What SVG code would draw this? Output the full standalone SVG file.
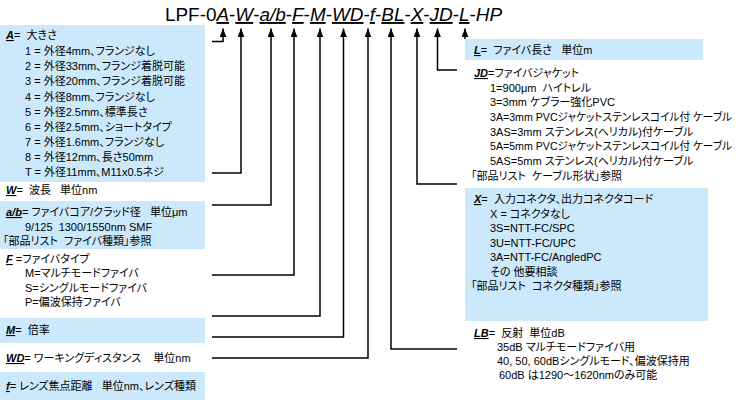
<svg xmlns="http://www.w3.org/2000/svg" width="740" height="400" viewBox="0 0 740 400">
<style>
.t{font-family:"Liberation Sans","Noto Sans CJK JP",sans-serif;font-size:11px;font-feature-settings:"palt";fill:#000;white-space:pre}
.lb{font-weight:bold;font-style:italic;text-decoration:underline}
.ttl{font-family:"Liberation Sans","Noto Sans CJK JP",sans-serif;font-size:18.9px;fill:#000}
.it{font-style:italic}
.u{font-style:italic;text-decoration:underline}
.box{fill:#CCE9FB}
.con{fill:none;stroke:#000;stroke-width:1.5}
</style>
<defs>
<marker id="ah" viewBox="0 0 10 8" refX="10" refY="4" markerWidth="9" markerHeight="7" markerUnits="userSpaceOnUse" orient="auto">
<path d="M0,0 L10,4 L0,8 Z" fill="#000"/>
</marker>
</defs>
<rect width="740" height="400" fill="#fff"/>
<g id="title">
<text class="ttl" x="165" y="21">LPF-0<tspan class="u">A</tspan>-<tspan class="u">W</tspan>-<tspan class="u">a/b</tspan>-<tspan class="u">F</tspan>-<tspan class="u">M</tspan>-<tspan class="u">WD</tspan>-<tspan class="u">f</tspan>-<tspan class="u">BL</tspan>-<tspan class="u">X</tspan>-<tspan class="u">JD</tspan>-<tspan class="u">L</tspan>-<tspan class="it">HP</tspan></text>
</g>
<g id="connectors">
<path class="con" d="M212,41.5 H223 V28.5" marker-end="url(#ah)"/>
<path class="con" d="M212,173 H241 V28.5" marker-end="url(#ah)"/>
<path class="con" d="M212,205 H271 V28.5" marker-end="url(#ah)"/>
<path class="con" d="M212,275 H294 V28.5" marker-end="url(#ah)"/>
<path class="con" d="M212,316 H320 V28.5" marker-end="url(#ah)"/>
<path class="con" d="M212,337 H343.5 V28.5" marker-end="url(#ah)"/>
<path class="con" d="M212,358 H368 V28.5" marker-end="url(#ah)"/>
<path class="con" d="M457,349 H391 V28.5" marker-end="url(#ah)"/>
<path class="con" d="M457,184 H417 V28.5" marker-end="url(#ah)"/>
<path class="con" d="M457,70 H437.5 V28.5" marker-end="url(#ah)"/>
<path class="con" d="M465,39 V28.5" marker-end="url(#ah)"/>
</g>
<g id="node-A">
<rect class="box" x="0" y="25" width="205" height="157"/>
<text class="t" x="6" y="39" xml:space="preserve"><tspan class="lb">A</tspan>=  大きさ</text>
<text class="t" x="25" y="55" xml:space="preserve">1 = 外径4mm、フランジなし</text>
<text class="t" x="25" y="70" xml:space="preserve">2 = 外径33mm、フランジ着脱可能</text>
<text class="t" x="25" y="85" xml:space="preserve">3 = 外径20mm、フランジ着脱可能</text>
<text class="t" x="25" y="100.5" xml:space="preserve">4 = 外径8mm、フランジなし</text>
<text class="t" x="25" y="115.5" xml:space="preserve">5 = 外径2.5mm、標準長さ</text>
<text class="t" x="25" y="130.5" xml:space="preserve">6 = 外径2.5mm、ショートタイプ</text>
<text class="t" x="25" y="145.5" xml:space="preserve">7 = 外径1.6mm、フランジなし</text>
<text class="t" x="25" y="160.5" xml:space="preserve">8 = 外径12mm、長さ50mm</text>
<text class="t" x="25" y="175.5" xml:space="preserve">T = 外径11mm、M11x0.5ネジ</text>
</g>
<g id="node-W">
<text class="t" x="6" y="194" xml:space="preserve"><tspan class="lb">W</tspan>=  波長   単位nm</text>
</g>
<g id="node-ab">
<rect class="box" x="0" y="201" width="205" height="48"/>
<text class="t" x="6" y="216" xml:space="preserve"><tspan class="lb">a/b</tspan>= ファイバコア/クラッド径   単位μm</text>
<text class="t" x="25" y="230.5" xml:space="preserve">9/125  1300/1550nm SMF</text>
<text class="t" x="3" y="244.5" xml:space="preserve">「部品リスト  ファイバ種類」参照</text>
</g>
<g id="node-F">
<text class="t" x="6" y="263" xml:space="preserve"><tspan class="lb">F</tspan> =ファイバタイプ</text>
<text class="t" x="25" y="277" xml:space="preserve">M=マルチモードファイバ</text>
<text class="t" x="25" y="292" xml:space="preserve">S=シングルモードファイバ</text>
<text class="t" x="25" y="306" xml:space="preserve">P=偏波保持ファイバ</text>
</g>
<g id="node-M">
<rect class="box" x="0" y="318" width="205" height="25"/>
<text class="t" x="6" y="334" xml:space="preserve"><tspan class="lb">M</tspan>=  倍率</text>
</g>
<g id="node-WD">
<text class="t" x="6" y="362" xml:space="preserve"><tspan class="lb">WD</tspan>= ワーキングディスタンス    単位nm</text>
</g>
<g id="node-f">
<rect class="box" x="0" y="372" width="205" height="28"/>
<text class="t" x="6" y="390" xml:space="preserve"><tspan class="lb">f</tspan>= レンズ焦点距離   単位nm、レンズ種類</text>
</g>
<g id="node-L">
<rect class="box" x="465" y="39" width="238" height="21"/>
<text class="t" x="474" y="54" xml:space="preserve"><tspan class="lb">L</tspan>=  ファイバ長さ   単位m</text>
</g>
<g id="node-JD">
<text class="t" x="474" y="77" xml:space="preserve"><tspan class="lb">JD</tspan>=ファイバジャケット</text>
<text class="t" x="490" y="92" xml:space="preserve">1=900μm  ハイトレル</text>
<text class="t" x="490" y="106" xml:space="preserve">3=3mm ケブラー強化PVC</text>
<text class="t" x="490" y="121" textLength="242" lengthAdjust="spacingAndGlyphs">3A=3mm PVCジャケットステンレスコイル付 ケーブル</text>
<text class="t" x="490" y="136" xml:space="preserve">3AS=3mm ステンレス(ヘリカル)付ケーブル</text>
<text class="t" x="490" y="150" textLength="242" lengthAdjust="spacingAndGlyphs">5A=5mm PVCジャケットステンレスコイル付 ケーブル</text>
<text class="t" x="490" y="165" xml:space="preserve">5AS=5mm ステンレス(ヘリカル)付ケーブル</text>
<text class="t" x="471" y="180" xml:space="preserve">「部品リスト  ケーブル形状」参照</text>
</g>
<g id="node-X">
<rect class="box" x="465" y="188" width="243" height="133"/>
<text class="t" x="474" y="203" xml:space="preserve"><tspan class="lb">X</tspan>=  入力コネクタ、出力コネクタコード</text>
<text class="t" x="490" y="218" xml:space="preserve">X = コネクタなし</text>
<text class="t" x="490" y="232" xml:space="preserve">3S=NTT-FC/SPC</text>
<text class="t" x="490" y="247" xml:space="preserve">3U=NTT-FC/UPC</text>
<text class="t" x="490" y="261" xml:space="preserve">3A=NTT-FC/AngledPC</text>
<text class="t" x="490" y="276" xml:space="preserve">その 他要相談</text>
<text class="t" x="471" y="290" xml:space="preserve">「部品リスト  コネクタ種類」参照</text>
</g>
<g id="node-LB">
<text class="t" x="474" y="337" xml:space="preserve"><tspan class="lb">LB</tspan>=  反射  単位dB</text>
<text class="t" x="497" y="351" xml:space="preserve">35dB マルチモードファイバ用</text>
<text class="t" x="497" y="365" xml:space="preserve">40, 50, 60dBシングルモード、偏波保持用</text>
<text class="t" x="499" y="379" xml:space="preserve">60dB は1290～1620nmのみ可能</text>
</g>
</svg>
